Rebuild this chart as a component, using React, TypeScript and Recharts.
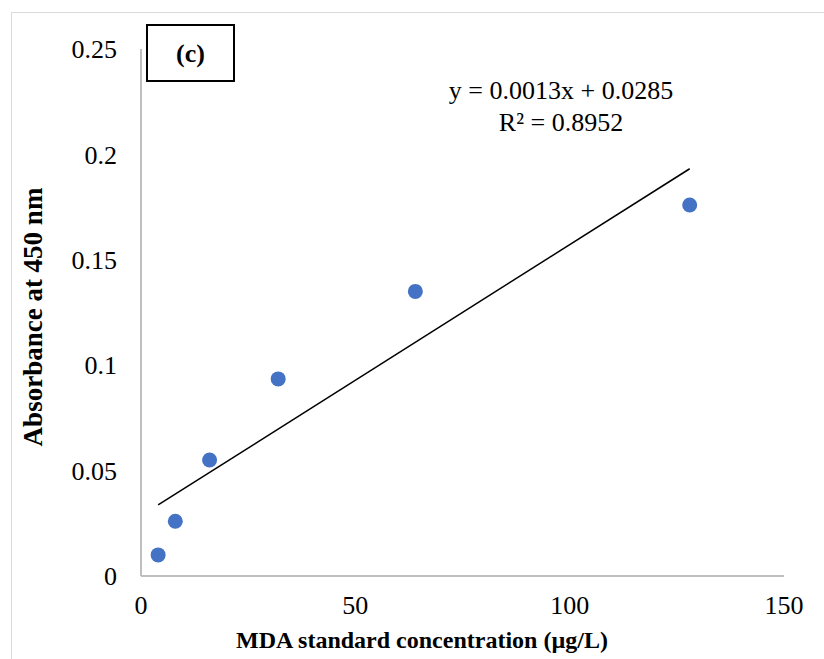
import {
  ScatterChart,
  Scatter,
  XAxis,
  YAxis,
  ReferenceLine,
  Customized,
} from "recharts";

const concentrations = [4, 8, 16, 32, 64, 128];
const absorbances = [0.01, 0.026, 0.055, 0.0935, 0.135, 0.176];
const xTicks = [0, 50, 100, 150];
const yTicks = [0, 0.05, 0.1, 0.15, 0.2, 0.25];

const points = concentrations.map((x, i) => ({ x, y: absorbances[i] }));

// least squares fit, same as the Excel linear trendline
const n = points.length;
const meanX = concentrations.reduce((a, b) => a + b, 0) / n;
const meanY = absorbances.reduce((a, b) => a + b, 0) / n;
let sxx = 0;
let sxy = 0;
points.forEach((p) => {
  sxx += (p.x - meanX) * (p.x - meanX);
  sxy += (p.x - meanX) * (p.y - meanY);
});
const slope = sxy / sxx;
const intercept = meanY - slope * meanX;
const xMin = Math.min(...concentrations);
const xMax = Math.max(...concentrations);
const trend = [
  { x: xMin, y: intercept + slope * xMin },
  { x: xMax, y: intercept + slope * xMax },
];

const font = "'Liberation Serif', 'Times New Roman', serif";
const tickStyle = { fontSize: 26, fill: "#000", fontFamily: font };

const Dot = (props: any) => (
  <circle cx={props.cx} cy={props.cy} r={7.5} fill="#4472C4" />
);

const Decorations = () => (
  <g fontFamily={font} fill="#000">
    <rect x={147} y={25} width={87} height={56} fill="#fff" stroke="#000" strokeWidth={2} />
    <text x={190.5} y={62} fontSize={26} fontWeight="bold" textAnchor="middle">
      (c)
    </text>
    <text x={561} y={99} fontSize={26} textAnchor="middle">
      y = 0.0013x + 0.0285
    </text>
    <text x={561} y={131} fontSize={26} textAnchor="middle">
      R² = 0.8952
    </text>
    <text x={422} y={648} fontSize={24} fontWeight="bold" textAnchor="middle">
      MDA standard concentration (µg/L)
    </text>
    <text
      x={0}
      y={0}
      fontSize={27}
      fontWeight="bold"
      textAnchor="middle"
      transform="translate(42 317) rotate(-90)"
    >
      Absorbance at 450 nm
    </text>
  </g>
);

export default function App() {
  return (
    <div
      style={{
        position: "absolute",
        left: 0,
        top: 0,
        width: 824,
        height: 659,
        background: "#fff",
        overflow: "hidden",
      }}
    >
      <div
        style={{
          position: "absolute",
          left: 11,
          top: 12,
          width: 900,
          height: 900,
          border: "1.5px solid #d9d9d9",
        }}
      />
      <div style={{ position: "absolute", left: 0, top: 0 }}>
        <ScatterChart
          width={824}
          height={659}
          margin={{ top: 49, right: 40, bottom: 0, left: 0 }}
        >
          <XAxis
            type="number"
            dataKey="x"
            domain={[0, 150]}
            ticks={xTicks}
            height={83}
            tickLine={false}
            tickSize={0}
            tickMargin={20}
            tick={tickStyle}
            axisLine={{ stroke: "#bfbfbf", strokeWidth: 2 }}
          />
          <YAxis
            type="number"
            dataKey="y"
            domain={[0, 0.25]}
            ticks={yTicks}
            width={141}
            tickLine={false}
            tickSize={0}
            tickMargin={24}
            tick={tickStyle}
            axisLine={{ stroke: "#bfbfbf", strokeWidth: 2 }}
          />
          <ReferenceLine
            segment={trend}
            stroke="#000"
            strokeWidth={1.5}
            ifOverflow="visible"
          />
          <Scatter data={points} shape={Dot} isAnimationActive={false} />
          <Customized component={Decorations} />
        </ScatterChart>
      </div>
    </div>
  );
}
